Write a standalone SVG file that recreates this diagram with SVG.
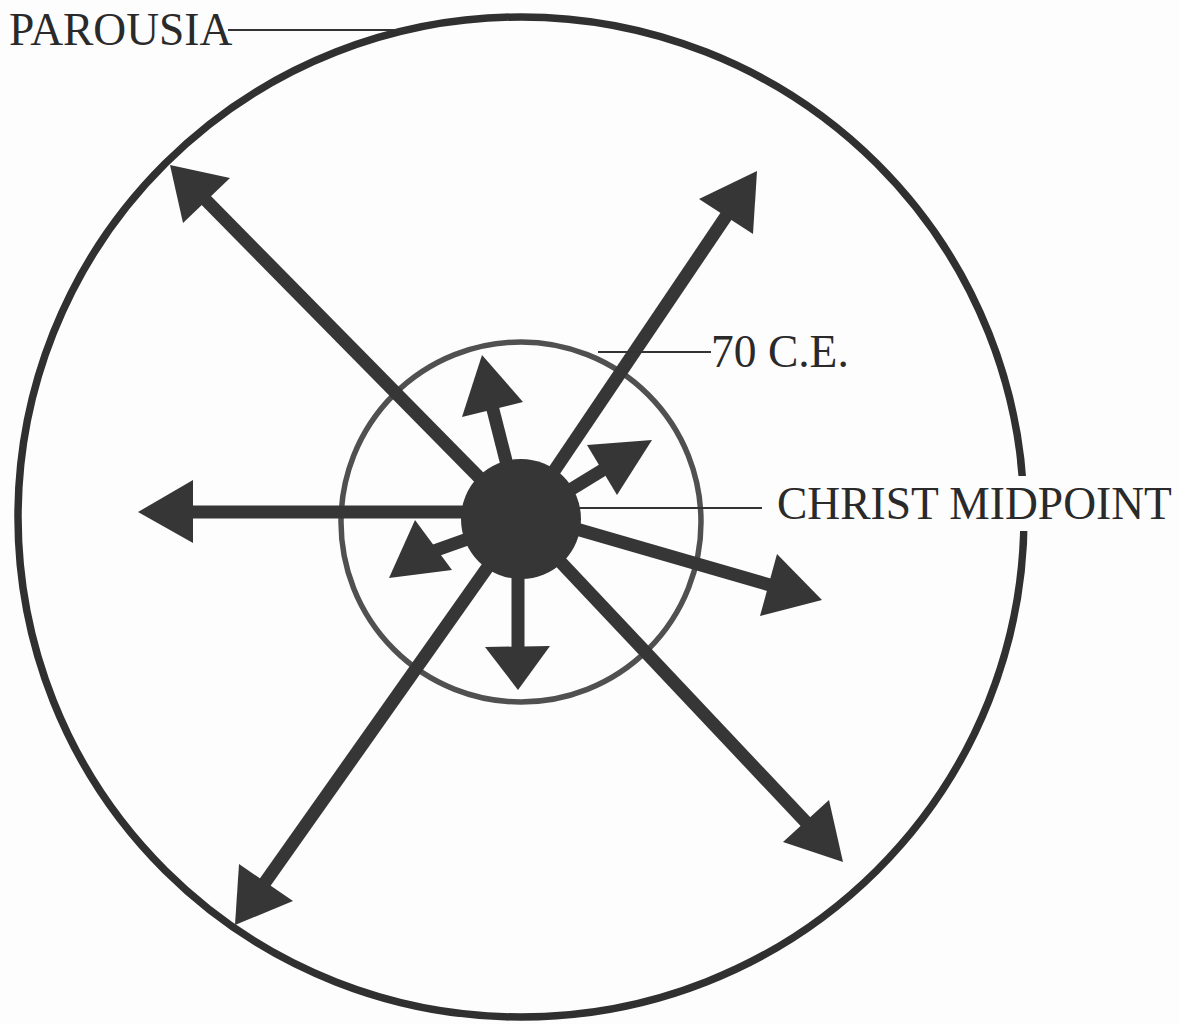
<svg xmlns="http://www.w3.org/2000/svg" width="1179" height="1024" viewBox="0 0 1179 1024">
<style>
.bg{fill:#fdfdfd}
.outer{fill:none;stroke:#303030;stroke-width:7.5}
.inner{fill:none;stroke:#505050;stroke-width:5.5}
.dot{fill:#363636}
.shaft{stroke:#363636;stroke-width:13;stroke-linecap:butt}
.head{fill:#363636}
.leader{stroke:#333;stroke-width:1.8}
.lbl{font-family:"Liberation Serif","Times New Roman",serif;font-size:45.5px;fill:#2a2a2a}
.mask{fill:#fdfdfd}
</style>
<rect class="bg" x="0" y="0" width="1179" height="1024"/>
<g id="parousia">
<ellipse class="outer" cx="521" cy="517" rx="503" ry="500"/>
</g>
<g id="ce70">
<circle class="inner" cx="521" cy="522" r="180"/>
</g>
<g id="connectors">
<line class="shaft" x1="521" y1="520" x2="192" y2="186"/>
<polygon class="head" points="170,165 230,178 183,223"/>
<line class="shaft" x1="521" y1="520" x2="737" y2="200"/>
<polygon class="head" points="757,171 699,199 753,234"/>
<line class="shaft" x1="521" y1="520" x2="254" y2="898"/>
<polygon class="head" points="235,925 239,864 293,901"/>
<line class="shaft" x1="521" y1="520" x2="819" y2="836"/>
<polygon class="head" points="843,862 829,800 783,842"/>
<line class="shaft" x1="521" y1="512" x2="173" y2="512"/>
<polygon class="head" points="138,512 193,480 193,543"/>
<line class="shaft" x1="521" y1="513" x2="787" y2="590"/>
<polygon class="head" points="822,600 777,554 760,616"/>
<line class="shaft" x1="521" y1="520" x2="488" y2="390"/>
<polygon class="head" points="482,355 462,417 523,402"/>
<line class="shaft" x1="521" y1="520" x2="619" y2="460"/>
<polygon class="head" points="652,440 587,445 617,495"/>
<line class="shaft" x1="521" y1="520" x2="417" y2="557"/>
<polygon class="head" points="389,578 415,520 452,570"/>
<line class="shaft" x1="518" y1="520" x2="518" y2="667"/>
<polygon class="head" points="518,690 485,647 550,646"/>
<line class="leader" x1="228" y1="30" x2="407" y2="30"/>
<line class="leader" x1="598" y1="352" x2="711" y2="352"/>
<line class="leader" x1="578" y1="508" x2="762" y2="508"/>
</g>
<g id="christ">
<circle class="dot" cx="521" cy="519" r="60"/>
</g>
<g id="labels">
<text class="lbl" x="9" y="45">PAROUSIA</text>
<text class="lbl" x="711" y="367">70 C.E.</text>
<rect class="mask" x="772" y="476" width="403" height="55"/>
<text class="lbl" x="777" y="519">CHRIST MIDPOINT</text>
</g>
</svg>
